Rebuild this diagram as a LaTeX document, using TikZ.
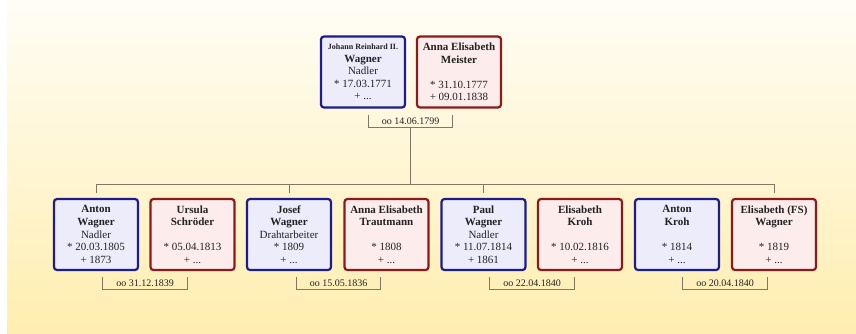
\documentclass[tikz,border=0pt]{standalone}
\usepackage{fontspec}
\setmainfont{Liberation Serif}
\definecolor{mblue}{RGB}{28,28,140}
\definecolor{mfill}{RGB}{236,236,250}
\definecolor{wred}{RGB}{140,26,26}
\definecolor{wfill}{RGB}{252,236,236}
\definecolor{txt}{RGB}{34,34,34}
\definecolor{lc}{RGB}{128,120,100}
\definecolor{bgtop}{RGB}{255,253,246}
\definecolor{bgbot}{RGB}{255,238,176}
\begin{document}
\begin{tikzpicture}[x=1pt,y=-1pt,
  person/.style={rounded corners=3pt, line width=2.2pt, minimum width=84pt, minimum height=71pt,
    inner sep=0pt, align=center, text=txt, font=\fontsize{11}{12.6}\selectfont},
  man/.style={person, draw=mblue, fill=mfill},
  woman/.style={person, draw=wred, fill=wfill},
  marr/.style={minimum width=84pt, minimum height=12pt, inner sep=0pt,
    font=\fontsize{10}{12}\selectfont, text=txt},
  conn/.style={draw=lc, line width=0.8pt}]
\useasboundingbox (0,0) rectangle (856,333);
\fill[white] (0,0) rectangle (856,333);
\shade[top color=bgtop, bottom color=bgbot] (7,0) rectangle (856,333);

% top couple
\node[man] (f0) at (363,72) {{\fontsize{8}{12.6}\selectfont\bfseries Johann Reinhard II.}\\\textbf{Wagner}\\Nadler\\* 17.03.1771\\+ ...};
\node[woman] (w0) at (459,72) {\textbf{Anna Elisabeth}\\\textbf{Meister}\\\mbox{}\\* 31.10.1777\\+ 09.01.1838};
\node[marr] (m0) at (410.5,121) {oo 14.06.1799};

% children row
\node[man] (f1) at (96,234.5) {\textbf{Anton}\\\textbf{Wagner}\\Nadler\\* 20.03.1805\\+ 1873};
\node[woman] (w1) at (192.5,234.5) {\textbf{Ursula}\\\textbf{Schröder}\\\mbox{}\\* 05.04.1813\\+ ...};
\node[man] (f2) at (289,234.5) {\textbf{Josef}\\\textbf{Wagner}\\Drahtarbeiter\\* 1809\\+ ...};
\node[woman] (w2) at (386.5,234.5) {\textbf{Anna Elisabeth}\\\textbf{Trautmann}\\\mbox{}\\* 1808\\+ ...};
\node[man] (f3) at (483.5,234.5) {\textbf{Paul}\\\textbf{Wagner}\\Nadler\\* 11.07.1814\\+ 1861};
\node[woman] (w3) at (580,234.5) {\textbf{Elisabeth}\\\textbf{Kroh}\\\mbox{}\\* 10.02.1816\\+ ...};
\node[man] (f4) at (677,234.5) {\textbf{Anton}\\\textbf{Kroh}\\\mbox{}\\* 1814\\+ ...};
\node[woman] (w4) at (774,234.5) {\textbf{Elisabeth (FS)}\\\textbf{Wagner}\\\mbox{}\\* 1819\\+ ...};

\node[marr] (m1) at (145,283) {oo 31.12.1839};
\node[marr] (m2) at (338.5,283) {oo 15.05.1836};
\node[marr] (m3) at (532,283) {oo 22.04.1840};
\node[marr] (m4) at (725,283) {oo 20.04.1840};

% marriage brackets
\foreach \m in {m0,m1,m2,m3,m4}
  \draw[conn] (\m.north west) -- (\m.south west) -- (\m.south east) -- (\m.north east);

% descent
\coordinate (bus) at (410,184);
\draw[conn] (m0.south) -- (m0.south |- bus);
\draw[conn] (f1.north |- bus) -- (w4.north |- bus);
\foreach \c in {f1,f2,f3,w4}
  \draw[conn] ([yshift=5pt]\c.north) -- (\c.north |- bus);
\end{tikzpicture}
\end{document}
